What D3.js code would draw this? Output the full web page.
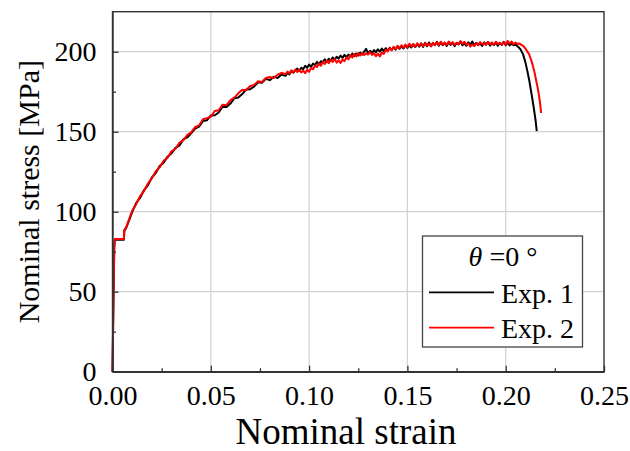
<!DOCTYPE html>
<html>
<head>
<meta charset="utf-8">
<script src="https://cdn.jsdelivr.net/npm/d3@7/dist/d3.min.js"></script>
<style>
  body { margin: 0; background: #fff; }
  svg { display: block; font-family: "Liberation Serif", "Times New Roman", serif; }
</style>
</head>
<body>
<svg id="chart" width="630" height="451"></svg>
<script>
// tick values
var xTicks = [0, 0.05, 0.10, 0.15, 0.20, 0.25];
var xMinor = [0.025, 0.075, 0.125, 0.175, 0.225];
var yTicks = [0, 50, 100, 150, 200];
var yMinor = [25, 75, 125, 175];

// series: [strain, stress MPa]
var exp1 = [
  [0, 0], [0.0005, 45], [0.0009, 78], [0.0012, 82.5], [0.0058, 82.5], [0.006, 88], [0.007, 90], [0.008, 93.2],
  [0.010, 99.7], [0.012, 105.3], [0.014, 108.6], [0.016, 113.4], [0.018, 116.5], [0.020, 121.4],
  [0.022, 124.2], [0.024, 128.5], [0.026, 130.6], [0.028, 134.4], [0.030, 136.5], [0.032, 139.9],
  [0.034, 141.3], [0.036, 145.2], [0.038, 146.4], [0.040, 149.0], [0.042, 151.9], [0.044, 153.2],
  [0.046, 156.6], [0.048, 157.1], [0.050, 160.2], [0.052, 160.3], [0.054, 162.0], [0.056, 165.6],
  [0.058, 165.4], [0.060, 167.6], [0.062, 170.9], [0.064, 171.4], [0.066, 173.5], [0.068, 176.4],
  [0.070, 176.6], [0.072, 178.2], [0.074, 180.9], [0.076, 180.6], [0.078, 183.1], [0.080, 182.2],
  [0.082, 184.4], [0.084, 183.5], [0.086, 185.7], [0.088, 184.9],
  [0.089, 186.9], [0.090, 185.8], [0.091, 187.9], [0.092, 186.9], [0.093, 188.4], [0.094, 189.5],
  [0.095, 187.9], [0.096, 190.0], [0.097, 189.1], [0.098, 191.2], [0.099, 190.0], [0.100, 191.9],
  [0.101, 190.6], [0.102, 192.6], [0.103, 191.5], [0.104, 193.7], [0.105, 192.1], [0.106, 194.0],
  [0.107, 193.6], [0.108, 195.2], [0.109, 193.5], [0.110, 195.6], [0.111, 194.3], [0.112, 196.4],
  [0.113, 194.9], [0.114, 196.8], [0.115, 195.7], [0.116, 197.6], [0.117, 196.1], [0.118, 198.0],
  [0.119, 196.6], [0.120, 198.2], [0.121, 197.0], [0.122, 198.8], [0.123, 197.3], [0.124, 198.9],
  [0.125, 197.6], [0.126, 199.4], [0.127, 198.2], [0.128, 200.1], [0.129, 201.8], [0.130, 199.0],
  [0.131, 200.6], [0.132, 199.2], [0.133, 201.0], [0.134, 199.7], [0.135, 201.5], [0.136, 200.0],
  [0.137, 201.9], [0.138, 200.4], [0.139, 202.2], [0.140, 200.6], [0.141, 202.5], [0.142, 201.1],
  [0.143, 202.9], [0.144, 201.3], [0.145, 203.4], [0.146, 201.8], [0.147, 203.5], [0.148, 202.0],
  [0.149, 204.1], [0.150, 202.3], [0.151, 204.0], [0.152, 202.6], [0.153, 204.6], [0.154, 202.9],
  [0.155, 204.7], [0.156, 203.1], [0.157, 205.2], [0.158, 203.0], [0.159, 205.6], [0.160, 203.4],
  [0.161, 205.8], [0.162, 203.5], [0.163, 205.4], [0.164, 204.0], [0.165, 206.2], [0.166, 203.7],
  [0.167, 205.9], [0.168, 204.1], [0.169, 205.5], [0.170, 203.6], [0.171, 206.0], [0.172, 204.3],
  [0.173, 205.7], [0.174, 203.5], [0.175, 205.4], [0.176, 204.6], [0.177, 206.3], [0.178, 204.0],
  [0.179, 205.2], [0.180, 203.7], [0.181, 205.9], [0.182, 204.4], [0.183, 206.4], [0.184, 203.9],
  [0.185, 205.6], [0.186, 204.2], [0.187, 205.3], [0.188, 203.6], [0.189, 205.8], [0.190, 204.5],
  [0.191, 206.1], [0.192, 203.8], [0.193, 205.4], [0.194, 204.1], [0.195, 205.9], [0.196, 203.7],
  [0.197, 205.5], [0.198, 204.4], [0.199, 206.2], [0.200, 204.0], [0.201, 205.6], [0.202, 203.9],
  [0.203, 205.3], [0.204, 204.0], [0.205, 204.6], [0.206, 203.4],
  [0.2075, 201.5], [0.2088, 198.5], [0.2100, 193.5], [0.2110, 188.0], [0.2120, 182.0], [0.2128, 176.0],
  [0.2137, 169.5], [0.2145, 163.0], [0.2152, 157.0], [0.2158, 150.3]
];

var exp2 = [
  [0, 0], [0.0005, 46], [0.0009, 79], [0.0012, 83], [0.0058, 83], [0.006, 88.5], [0.007, 90.5], [0.008, 93.8],
  [0.010, 100.6], [0.012, 104.5], [0.014, 109.7], [0.016, 112.9], [0.018, 117.6], [0.020, 120.8],
  [0.022, 125.3], [0.024, 127.7], [0.026, 131.8], [0.028, 133.7], [0.030, 137.7], [0.032, 139.2],
  [0.034, 143.0], [0.036, 144.6], [0.038, 147.9], [0.040, 149.6], [0.042, 152.8], [0.044, 153.9],
  [0.046, 157.8], [0.048, 158.5], [0.050, 159.3], [0.052, 162.9], [0.054, 163.4], [0.056, 166.9],
  [0.058, 166.6], [0.060, 169.8], [0.062, 171.3], [0.064, 174.0], [0.066, 176.2], [0.068, 175.9],
  [0.070, 178.6], [0.072, 179.2], [0.074, 181.5], [0.076, 181.0], [0.078, 183.6], [0.080, 184.2],
  [0.082, 183.5], [0.084, 185.6], [0.086, 186.8], [0.088, 186.0],
  [0.089, 187.6], [0.090, 186.3], [0.091, 188.4], [0.092, 187.1], [0.093, 188.9], [0.094, 187.3],
  [0.095, 188.8], [0.096, 187.0], [0.097, 188.1], [0.098, 186.6], [0.099, 188.7], [0.100, 187.4],
  [0.101, 189.9], [0.102, 189.0], [0.103, 191.3], [0.104, 190.4], [0.105, 192.5], [0.106, 191.2],
  [0.107, 193.6], [0.108, 192.3], [0.109, 194.5], [0.110, 192.8], [0.111, 194.9], [0.112, 193.6],
  [0.113, 195.4], [0.114, 193.2], [0.115, 194.6], [0.116, 193.0], [0.117, 195.2], [0.118, 194.1],
  [0.119, 196.4], [0.120, 195.2], [0.121, 197.8], [0.122, 196.3], [0.123, 198.6], [0.124, 197.0],
  [0.125, 199.1], [0.126, 197.6], [0.127, 199.3], [0.128, 197.9], [0.129, 199.0], [0.130, 198.2],
  [0.131, 199.8], [0.132, 198.0], [0.133, 199.1], [0.134, 197.2], [0.135, 198.8], [0.136, 197.0],
  [0.137, 199.5], [0.138, 198.6], [0.139, 201.2], [0.140, 200.1], [0.141, 202.4], [0.142, 200.9],
  [0.143, 203.0], [0.144, 201.6], [0.145, 203.7], [0.146, 202.2], [0.147, 204.0], [0.148, 202.5],
  [0.149, 204.4], [0.150, 202.8], [0.151, 205.0], [0.152, 203.3], [0.153, 204.8], [0.154, 203.0],
  [0.155, 205.3], [0.156, 203.6], [0.157, 205.1], [0.158, 203.4], [0.159, 205.5], [0.160, 203.9],
  [0.161, 205.0], [0.162, 203.3], [0.163, 205.6], [0.164, 204.2], [0.165, 205.8], [0.166, 204.0],
  [0.167, 206.2], [0.168, 204.5], [0.169, 205.7], [0.170, 204.1], [0.171, 206.4], [0.172, 204.8],
  [0.173, 206.0], [0.174, 204.3], [0.175, 205.5], [0.176, 204.7], [0.177, 206.6], [0.178, 204.9],
  [0.179, 206.2], [0.180, 204.4], [0.181, 205.1], [0.182, 203.2], [0.183, 204.6], [0.184, 203.5],
  [0.185, 205.3], [0.186, 204.0], [0.187, 206.0], [0.188, 204.6], [0.189, 205.4], [0.190, 204.2],
  [0.191, 206.1], [0.192, 204.7], [0.193, 205.8], [0.194, 204.3], [0.195, 206.2], [0.196, 204.8],
  [0.197, 205.6], [0.198, 204.1], [0.199, 205.9], [0.200, 204.5], [0.201, 206.8], [0.202, 205.0],
  [0.203, 206.4], [0.204, 204.6], [0.205, 205.7], [0.206, 204.9], [0.207, 205.1], [0.208, 204.3],
  [0.2094, 203.0], [0.2108, 200.5], [0.2119, 198.4], [0.2132, 194.0], [0.2145, 188.0], [0.2155, 182.0],
  [0.2162, 177.9], [0.2168, 173.5], [0.2173, 169.6], [0.2177, 165.5], [0.2180, 161.7]
];

var seriesNames = ["Exp. 1", "Exp. 2"];
var seriesColors = ["#000000", "#ff0000"];

var plotLeft = 112.5, plotRight = 604, plotTop = 11.7, plotBottom = 371.7;

var svg = d3.select("#chart");

var x = d3.scaleLinear().domain([0, 0.25]).range([plotLeft, plotRight]);
var y = d3.scaleLinear().domain([0, 225]).range([plotBottom, plotTop]);

// grid
var grid = svg.append("g").attr("class", "grid");
grid.selectAll("line.gx")
  .data(xTicks.slice(1, -1))
  .enter().append("line")
  .attr("x1", function (d) { return x(d); })
  .attr("x2", function (d) { return x(d); })
  .attr("y1", plotTop).attr("y2", plotBottom)
  .style("stroke", "#d4d4d4").style("stroke-width", 1.3);
grid.selectAll("line.gy")
  .data(yTicks.slice(1))
  .enter().append("line")
  .attr("x1", plotLeft).attr("x2", plotRight)
  .attr("y1", function (d) { return y(d); })
  .attr("y2", function (d) { return y(d); })
  .style("stroke", "#d4d4d4").style("stroke-width", 1.3);

// curves
var line = d3.line()
  .x(function (d) { return x(d[0]); })
  .y(function (d) { return y(d[1]); });

[exp1, exp2].forEach(function (s, i) {
  svg.append("path")
    .datum(s)
    .attr("d", line)
    .style("fill", "none")
    .style("stroke", seriesColors[i])
    .style("stroke-width", 2)
    .style("stroke-linejoin", "round");
});

// frame
svg.append("rect")
  .attr("x", plotLeft).attr("y", plotTop)
  .attr("width", plotRight - plotLeft).attr("height", plotBottom - plotTop)
  .style("fill", "none").style("stroke", "#333").style("stroke-width", 1.4);

// axes with inward ticks
var xAxis = d3.axisBottom(x).tickValues(xTicks).tickSizeInner(-6).tickSizeOuter(0)
  .tickPadding(13).tickFormat(d3.format(".2f"));
var gx = svg.append("g").attr("transform", "translate(0," + plotBottom + ")").call(xAxis);
gx.select(".domain").style("stroke", "#333").style("stroke-width", 1.4);
gx.selectAll(".tick line").style("stroke", "#333").style("stroke-width", 1.3);
gx.selectAll(".tick text").style("font-size", "28px").style("font-family", "Liberation Serif").attr("fill", "#000");

var gxm = svg.append("g").attr("transform", "translate(0," + plotBottom + ")")
  .call(d3.axisBottom(x).tickValues(xMinor).tickSize(-3.5).tickFormat(""));
gxm.select(".domain").remove();
gxm.selectAll(".tick line").style("stroke", "#333").style("stroke-width", 1.3);

var yAxis = d3.axisLeft(y).tickValues(yTicks).tickSizeInner(-6).tickSizeOuter(0).tickPadding(16);
var gy = svg.append("g").attr("transform", "translate(" + plotLeft + ",0)").call(yAxis);
gy.select(".domain").style("stroke", "#333").style("stroke-width", 1.4);
gy.selectAll(".tick line").style("stroke", "#333").style("stroke-width", 1.3);
gy.selectAll(".tick text").style("font-size", "28px").style("font-family", "Liberation Serif").attr("fill", "#000");

var gym = svg.append("g").attr("transform", "translate(" + plotLeft + ",0)")
  .call(d3.axisLeft(y).tickValues(yMinor).tickSize(-3.5).tickFormat(""));
gym.select(".domain").remove();
gym.selectAll(".tick line").style("stroke", "#333").style("stroke-width", 1.3);

// axis titles
svg.append("text")
  .attr("x", 346).attr("y", 444)
  .attr("text-anchor", "middle")
  .style("font-size", "37px")
  .text("Nominal strain");

svg.append("text")
  .attr("transform", "translate(39," + (plotTop + plotBottom) / 2 + ") rotate(-90)")
  .attr("text-anchor", "middle")
  .style("font-size", "30px")
  .text("Nominal stress [MPa]");

// legend
var lg = svg.append("g");
lg.append("rect")
  .attr("x", 422.5).attr("y", 236).attr("width", 160).attr("height", 111)
  .style("fill", "#fff").style("stroke", "#444").style("stroke-width", 1.3);
var lt = lg.append("text").attr("x", 503).attr("y", 266).attr("text-anchor", "middle").style("font-size", "28px");
lt.append("tspan").style("font-style", "italic").text("\u03b8");
lt.append("tspan").text(" =0 \u00b0");

seriesNames.forEach(function (name, i) {
  var yy = 292.3 + i * 35.4;
  lg.append("line")
    .attr("x1", 429).attr("x2", 494).attr("y1", yy).attr("y2", yy)
    .style("stroke", seriesColors[i]).style("stroke-width", 1.7);
  lg.append("text")
    .attr("x", 501).attr("y", yy + 10.5)
    .style("font-size", "28px")
    .text(name);
});
</script>
</body>
</html>
